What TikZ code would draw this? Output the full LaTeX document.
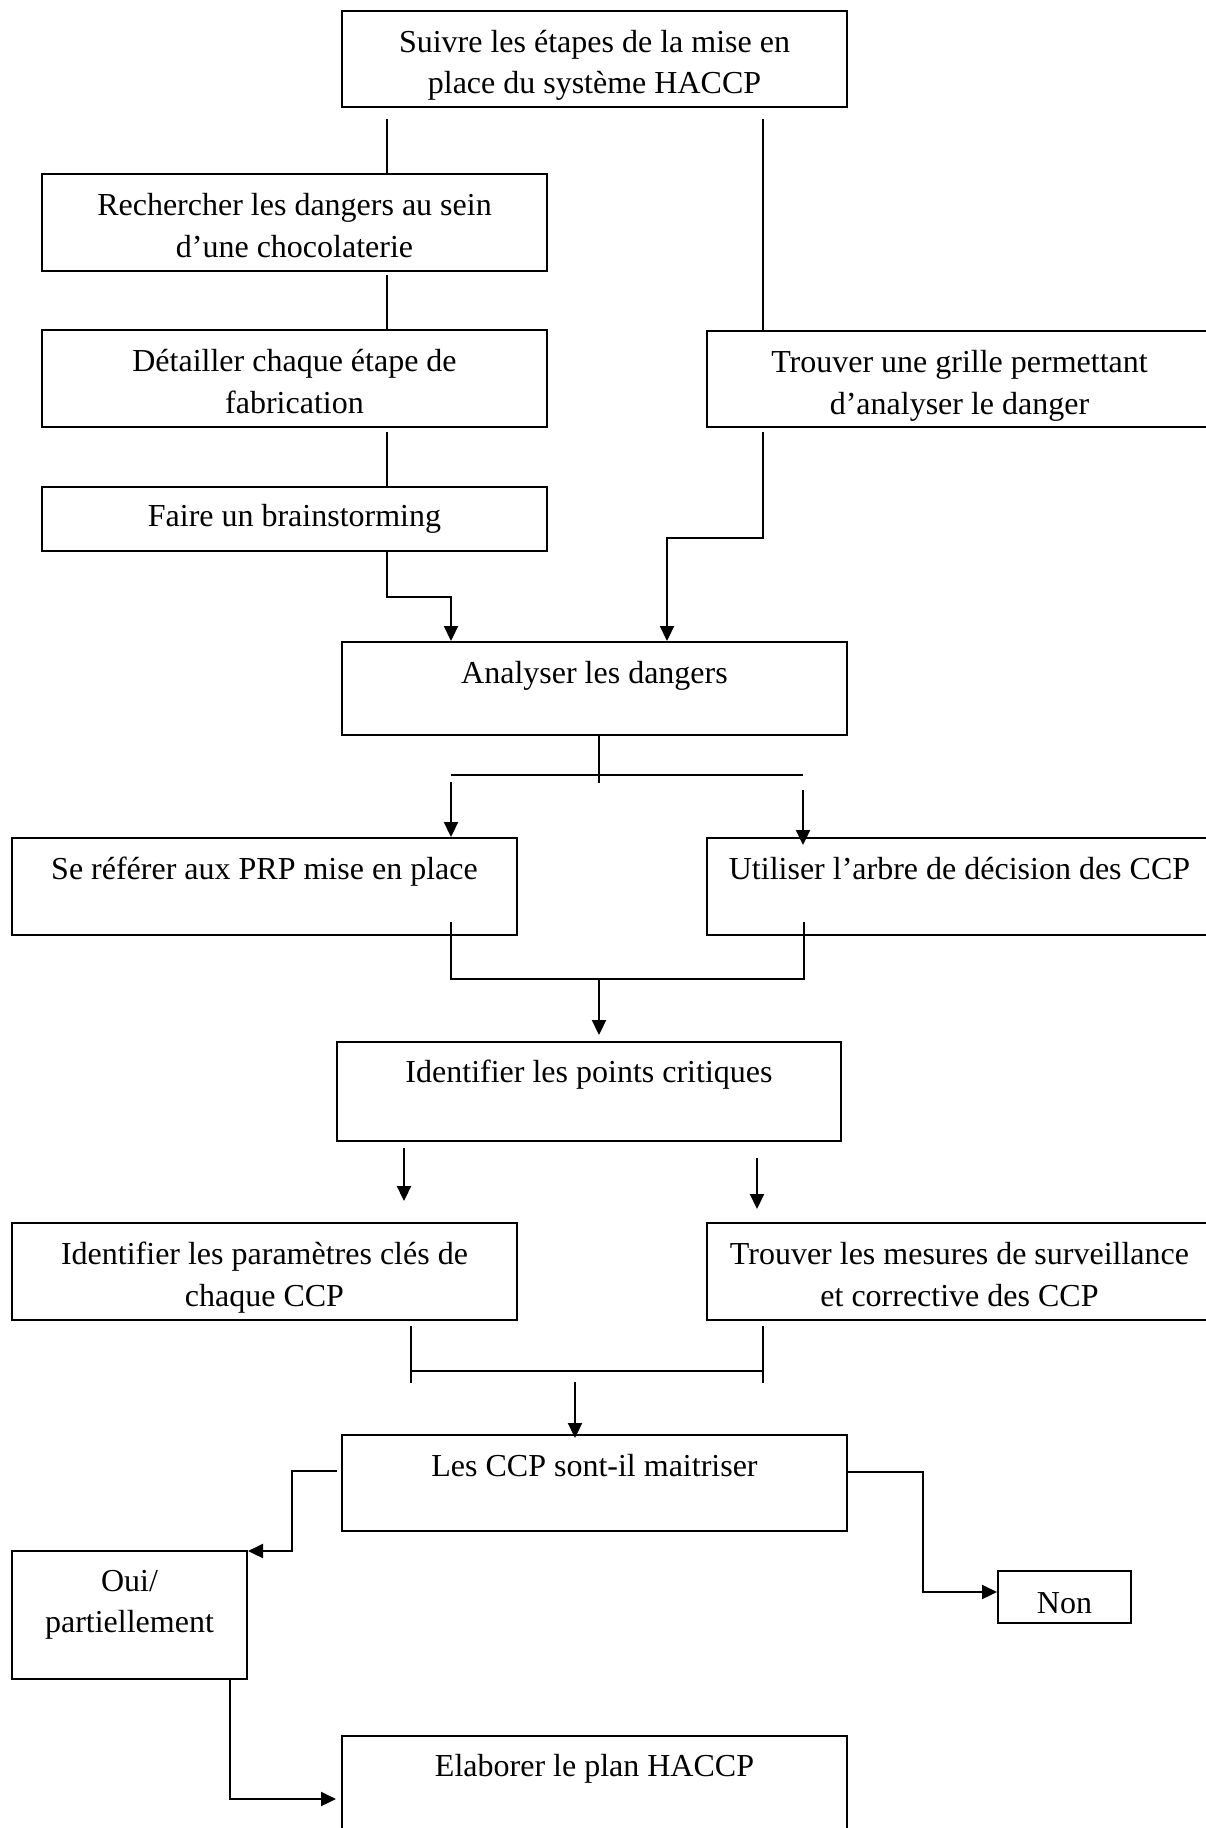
\documentclass[tikz,border=0pt]{standalone}
\usepackage{fontspec}
\setmainfont{Liberation Serif}
\usetikzlibrary{arrows.meta}
% box content: [first baseline from top]{height}{width}{lines}
\newcommand\flowtext[4][41.5pt]{\parbox[c][#2][t]{#3}{\centering\rule{0pt}{#1}#4\par}}
\begin{document}
\begin{tikzpicture}[x=1pt,y=-1pt,
  box/.style={draw,line width=2pt,inner sep=0pt,
    font=\fontsize{32}{41.5}\selectfont},
  thinline/.style={line width=1.3pt},
  flow/.style={line width=2.2pt,-{Triangle[width=14pt,length=15pt]}}]
\useasboundingbox (0,0) rectangle (1206,1828);
\clip (0,0) rectangle (1206,1828);
\fill[white] (0,0) rectangle (1206,1828);

% --- boxes ---
\node[box] (top) at (594.5,59)
  {\flowtext{96pt}{505pt}{Suivre les étapes de la mise en\\place du système HACCP}};
\node[box] (rech) at (294.5,222.5)
  {\flowtext{97pt}{505pt}{Rechercher les dangers au sein\\d’une chocolaterie}};
\node[box] (detail) at (294.5,378.5)
  {\flowtext{97pt}{505pt}{Détailler chaque étape de\\fabrication}};
\node[box] (grille) at (959.5,379)
  {\flowtext{96pt}{505pt}{Trouver une grille permettant\\d’analyser le danger}};
\node[box] (brain) at (294.5,519)
  {\flowtext[39.5pt]{64pt}{505pt}{Faire un brainstorming}};
\node[box] (analyse) at (594.5,688.5)
  {\flowtext{93pt}{505pt}{Analyser les dangers}};
\node[box] (prp) at (264.5,886.5)
  {\flowtext{97pt}{505pt}{Se référer aux PRP mise en place}};
\node[box] (arbre) at (959.5,886.5)
  {\flowtext{97pt}{505pt}{Utiliser l’arbre de décision des CCP}};
\node[box] (crit) at (589,1091.5)
  {\flowtext[40.5pt]{99pt}{504pt}{Identifier les points critiques}};
\node[box] (param) at (264.5,1271.5)
  {\flowtext{97pt}{505pt}{Identifier les paramètres clés de\\chaque CCP}};
\node[box] (mesures) at (959.5,1271.5)
  {\flowtext{97pt}{505pt}{Trouver les mesures de surveillance\\et corrective des CCP}};
\node[box] (maitr) at (594.5,1483)
  {\flowtext{96pt}{505pt}{Les CCP sont-il maitriser}};
\node[box] (oui) at (129.5,1615)
  {\flowtext[40pt]{128pt}{235pt}{Oui/\\partiellement}};
\node[box] (non) at (1064.5,1597)
  {\flowtext[42pt]{52pt}{133pt}{Non}};
\node[box] (plan) at (594.5,1784)
  {\flowtext[40.5pt]{96pt}{505pt}{Elaborer le plan HACCP}};

% --- left column links ---
\coordinate (a1) at (387,119);
\draw[thinline] (a1) -- (a1 |- rech.north);
\coordinate (c1) at (387,275);
\draw[thinline] (c1) -- (c1 |- detail.north);
\coordinate (d1) at (387,432);
\draw[thinline] (d1) -- (d1 |- brain.north);

% --- right column link ---
\coordinate (b1) at (763,119);
\draw[thinline] (b1) -- (b1 |- grille.north);

% --- towards the hazard analysis ---
\coordinate (e1) at (451,597);
\draw[flow] (brain.south -| a1) |- (e1) -- (e1 |- analyse.north);
\coordinate (f1) at (763,432);
\coordinate (f2) at (667,538);
\draw[flow] (f1) |- (f2) -- (f2 |- analyse.north);

% --- split below the hazard analysis ---
\coordinate (g1) at (599,783);
\draw[thinline] (analyse.south -| g1) -- (g1);
\coordinate (gL) at (451,775);
\coordinate (gR) at (803,775);
\draw[thinline] (gL) -- (gR);
\coordinate (h1) at (451,782);
\draw[flow] (h1) -- (h1 |- prp.north);
\coordinate (i1) at (803,790);
\coordinate (i2) at (803,845);
\draw[flow] (i1) -- (i2);

% --- join towards critical points ---
\coordinate (jL) at (451,922);
\coordinate (jR) at (804,922);
\coordinate (jM) at (599,979);
\draw[thinline] (jL) |- (jR |- jM) -- (jR);
\coordinate (k0) at (599,1035);
\draw[flow] (jM) -- (k0);

% --- arrows below critical points ---
\coordinate (k1) at (404,1148);
\coordinate (k2) at (404,1201);
\draw[flow] (k1) -- (k2);
\coordinate (k3) at (757,1158);
\coordinate (k4) at (757,1209);
\draw[flow] (k3) -- (k4);

% --- bracket joining parameters and measures ---
\coordinate (l1) at (411,1326);
\coordinate (l2) at (411,1383);
\coordinate (l3) at (763,1326);
\coordinate (l4) at (763,1383);
\draw[thinline] (l1) -- (l2);
\draw[thinline] (l3) -- (l4);
\coordinate (lL) at (411,1371);
\coordinate (lR) at (763,1371);
\draw[thinline] (lL) -- (lR);
\coordinate (m1) at (575,1382);
\coordinate (m2) at (575,1438);
\draw[flow] (m1) -- (m2);

% --- decision branches ---
\coordinate (n1) at (337,1471);
\coordinate (n2) at (292,1551);
\draw[flow] (n1) -| (n2) -- (oui.east |- n2);
\coordinate (o1) at (847,1472);
\coordinate (o2) at (923,1592);
\draw[flow] (o1) -| (o2) -- (non.west |- o2);

% --- from the "yes" box to the HACCP plan ---
\coordinate (p1) at (123,1679);
\coordinate (p2) at (230,1799);
\coordinate (p3) at (336,1799);
\draw[flow] (p1) -- (p2 |- p1) -- (p2) -- (p3);
\end{tikzpicture}
\end{document}
